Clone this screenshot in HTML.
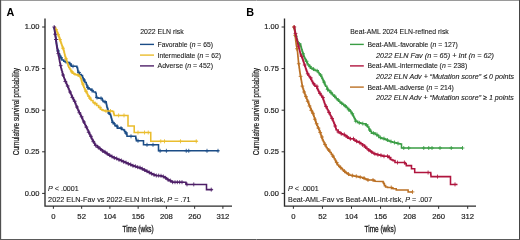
<!DOCTYPE html>
<html><head><meta charset="utf-8"><style>html,body{margin:0;padding:0;background:#fff;width:520px;height:240px;overflow:hidden}svg{display:block;will-change:transform}</style></head>
<body>
<svg width="520" height="240" viewBox="0 0 520 240">
<style>
text{font-family:"Liberation Sans",sans-serif;fill:#1a1a1a}
.tk{font-size:7.5px;stroke:#222;stroke-width:0.18px}
.tx{font-size:7.7px;stroke:#222;stroke-width:0.18px}
.lg{font-size:7.3px;stroke:#1a1a1a;stroke-width:0.1px}
.it{font-size:7.3px;font-style:italic;stroke:#1a1a1a;stroke-width:0.1px}
.an{font-size:7.5px;stroke:#1a1a1a;stroke-width:0.1px}
.pl{font-size:10.8px;font-weight:bold;fill:#000}
</style>
<rect x="0" y="0" width="520" height="240" fill="#fff"/>
<path d="M0 0.5H520" stroke="#9a9a9a" stroke-width="1"/>
<path d="M0.5 0V240" stroke="#505050" stroke-width="1"/>
<path d="M1.5 1V239" stroke="#e4e4e4" stroke-width="1"/>
<path d="M519.5 0V240" stroke="#454545" stroke-width="1"/>
<path d="M0 239.5H520" stroke="#5a5a5a" stroke-width="1"/>
<text x="6.4" y="15.5" class="pl">A</text>
<text x="246.2" y="15.8" class="pl">B</text>
<path d="M45.00 18.5V206.1H232.0" stroke="#2b2b2b" stroke-width="1.35" fill="none"/>
<path d="M42.1 27.0H45.0" stroke="#2b2b2b" stroke-width="1"/>
<text x="39.4" y="29.3" text-anchor="end" class="tk">1.00</text>
<path d="M42.1 68.6H45.0" stroke="#2b2b2b" stroke-width="1"/>
<text x="39.4" y="70.9" text-anchor="end" class="tk">0.75</text>
<path d="M42.1 110.2H45.0" stroke="#2b2b2b" stroke-width="1"/>
<text x="39.4" y="112.5" text-anchor="end" class="tk">0.50</text>
<path d="M42.1 151.8H45.0" stroke="#2b2b2b" stroke-width="1"/>
<text x="39.4" y="154.1" text-anchor="end" class="tk">0.25</text>
<path d="M42.1 193.4H45.0" stroke="#2b2b2b" stroke-width="1"/>
<text x="39.4" y="195.7" text-anchor="end" class="tk">0.00</text>
<path d="M53.40 206.1V208.8" stroke="#2b2b2b" stroke-width="1"/>
<text x="53.40" y="218.9" text-anchor="middle" class="tx">0</text>
<path d="M81.65 206.1V208.8" stroke="#2b2b2b" stroke-width="1"/>
<text x="81.65" y="218.9" text-anchor="middle" class="tx">52</text>
<path d="M109.90 206.1V208.8" stroke="#2b2b2b" stroke-width="1"/>
<text x="109.90" y="218.9" text-anchor="middle" class="tx">104</text>
<path d="M138.15 206.1V208.8" stroke="#2b2b2b" stroke-width="1"/>
<text x="138.15" y="218.9" text-anchor="middle" class="tx">156</text>
<path d="M166.40 206.1V208.8" stroke="#2b2b2b" stroke-width="1"/>
<text x="166.40" y="218.9" text-anchor="middle" class="tx">208</text>
<path d="M194.65 206.1V208.8" stroke="#2b2b2b" stroke-width="1"/>
<text x="194.65" y="218.9" text-anchor="middle" class="tx">260</text>
<path d="M222.90 206.1V208.8" stroke="#2b2b2b" stroke-width="1"/>
<text x="222.90" y="218.9" text-anchor="middle" class="tx">312</text>
<path d="M284.50 18.5V206.1H476.0" stroke="#2b2b2b" stroke-width="1.35" fill="none"/>
<path d="M281.6 27.0H284.5" stroke="#2b2b2b" stroke-width="1"/>
<text x="278.9" y="29.3" text-anchor="end" class="tk">1.00</text>
<path d="M281.6 68.6H284.5" stroke="#2b2b2b" stroke-width="1"/>
<text x="278.9" y="70.9" text-anchor="end" class="tk">0.75</text>
<path d="M281.6 110.2H284.5" stroke="#2b2b2b" stroke-width="1"/>
<text x="278.9" y="112.5" text-anchor="end" class="tk">0.50</text>
<path d="M281.6 151.8H284.5" stroke="#2b2b2b" stroke-width="1"/>
<text x="278.9" y="154.1" text-anchor="end" class="tk">0.25</text>
<path d="M281.6 193.4H284.5" stroke="#2b2b2b" stroke-width="1"/>
<text x="278.9" y="195.7" text-anchor="end" class="tk">0.00</text>
<path d="M293.40 206.1V208.8" stroke="#2b2b2b" stroke-width="1"/>
<text x="293.40" y="218.9" text-anchor="middle" class="tx">0</text>
<path d="M322.45 206.1V208.8" stroke="#2b2b2b" stroke-width="1"/>
<text x="322.45" y="218.9" text-anchor="middle" class="tx">52</text>
<path d="M351.50 206.1V208.8" stroke="#2b2b2b" stroke-width="1"/>
<text x="351.50" y="218.9" text-anchor="middle" class="tx">104</text>
<path d="M380.55 206.1V208.8" stroke="#2b2b2b" stroke-width="1"/>
<text x="380.55" y="218.9" text-anchor="middle" class="tx">156</text>
<path d="M409.60 206.1V208.8" stroke="#2b2b2b" stroke-width="1"/>
<text x="409.60" y="218.9" text-anchor="middle" class="tx">208</text>
<path d="M438.65 206.1V208.8" stroke="#2b2b2b" stroke-width="1"/>
<text x="438.65" y="218.9" text-anchor="middle" class="tx">260</text>
<path d="M467.70 206.1V208.8" stroke="#2b2b2b" stroke-width="1"/>
<text x="467.70" y="218.9" text-anchor="middle" class="tx">312</text>
<text transform="translate(18.8 111.6) rotate(-90)" text-anchor="middle" font-size="8.2" stroke="#1a1a1a" stroke-width="0.2" textLength="87.3" lengthAdjust="spacingAndGlyphs">Cumulative survival probability</text>
<text transform="translate(258.8 111.6) rotate(-90)" text-anchor="middle" font-size="8.2" stroke="#1a1a1a" stroke-width="0.2" textLength="87.3" lengthAdjust="spacingAndGlyphs">Cumulative survival probability</text>
<text x="138.1" y="231.6" text-anchor="middle" font-size="8.6" stroke="#1a1a1a" stroke-width="0.3" textLength="31.3" lengthAdjust="spacingAndGlyphs">Time (wks)</text>
<text x="380.2" y="231.6" text-anchor="middle" font-size="8.6" stroke="#1a1a1a" stroke-width="0.3" textLength="31.3" lengthAdjust="spacingAndGlyphs">Time (wks)</text>
<text x="140.25" y="33.5" class="lg" textLength="43.5" lengthAdjust="spacingAndGlyphs">2022 ELN risk</text>
<path d="M140 44.4H154" stroke="#1b4c86" stroke-width="1.4"/>
<text x="157.5" y="46.9" class="lg" textLength="55.5" lengthAdjust="spacingAndGlyphs">Favorable (<tspan font-style="italic">n</tspan> = 65)</text>
<path d="M140 55.1H154" stroke="#eabd2e" stroke-width="1.4"/>
<text x="157.5" y="57.6" class="lg" textLength="63.5" lengthAdjust="spacingAndGlyphs">Intermediate (<tspan font-style="italic">n</tspan> = 62)</text>
<path d="M140 65.9H154" stroke="#4e2068" stroke-width="1.4"/>
<text x="157.5" y="68.4" class="lg" textLength="55.5" lengthAdjust="spacingAndGlyphs">Adverse (<tspan font-style="italic">n</tspan> = 452)</text>
<text x="350.25" y="33.5" class="lg" textLength="98.5" lengthAdjust="spacingAndGlyphs">Beat-AML 2024 ELN-refined risk</text>
<path d="M350 44.4H363.8" stroke="#3a9d44" stroke-width="1.4"/>
<text x="367.4" y="46.9" class="lg" textLength="90.5" lengthAdjust="spacingAndGlyphs">Beat-AML-favorable (<tspan font-style="italic">n</tspan> = 127)</text>
<text x="376" y="57.5" class="it" textLength="118.0" lengthAdjust="spacingAndGlyphs">2022 ELN Fav (n = 65) + Int (n = 62)</text>
<path d="M350 65.9H363.8" stroke="#b0153e" stroke-width="1.4"/>
<text x="367.4" y="68.4" class="lg" textLength="99.8" lengthAdjust="spacingAndGlyphs">Beat-AML-intermediate (<tspan font-style="italic">n</tspan> = 238)</text>
<text x="376" y="79.0" class="it" textLength="138.0" lengthAdjust="spacingAndGlyphs">2022 ELN Adv + “Mutation score” ≤ 0 points</text>
<path d="M350 87.1H363.8" stroke="#bb7024" stroke-width="1.4"/>
<text x="367.4" y="89.5" class="lg" textLength="86.5" lengthAdjust="spacingAndGlyphs">Beat-AML-adverse (<tspan font-style="italic">n</tspan> = 214)</text>
<text x="376" y="100.2" class="it" textLength="137.8" lengthAdjust="spacingAndGlyphs">2022 ELN Adv + “Mutation score” ≥ 1 points</text>
<text x="48.1" y="190.6" class="an" textLength="30.6" lengthAdjust="spacingAndGlyphs"><tspan font-style="italic">P</tspan> &lt; .0001</text>
<text x="48.1" y="202" class="an" textLength="142.5" lengthAdjust="spacingAndGlyphs">2022 ELN-Fav vs 2022-ELN Int-risk, <tspan font-style="italic">P</tspan> = .71</text>
<text x="288.1" y="190.6" class="an" textLength="30.6" lengthAdjust="spacingAndGlyphs"><tspan font-style="italic">P</tspan> &lt; .0001</text>
<text x="288.1" y="202" class="an" textLength="144.1" lengthAdjust="spacingAndGlyphs">Beat-AML-Fav vs Beat-AML-Int-risk, <tspan font-style="italic">P</tspan> = .007</text>
<path d="M54.00 27.00L54.20 27.00L54.20 28.25L54.40 28.25L54.40 29.50L54.65 29.50L54.65 31.06L54.90 31.06L54.90 32.62L55.15 32.62L55.15 34.19L55.40 34.19L55.40 35.75L55.58 35.75L55.58 37.00L55.75 37.00L55.75 38.25L55.92 38.25L55.92 39.50L56.10 39.50L56.10 40.75L56.27 40.75L56.27 42.00L56.45 42.00L56.45 43.25L56.62 43.25L56.62 44.50L56.80 44.50L56.80 45.75L57.03 45.75L57.03 47.00L57.27 47.00L57.27 48.25L57.50 48.25L57.50 49.50L57.92 49.50L57.92 50.92L58.33 50.92L58.33 52.33L58.75 52.33L58.75 53.75L59.37 53.75L59.37 55.00L59.98 55.00L59.98 56.25L60.60 56.25L60.60 57.50L61.25 57.50L61.25 58.75L61.90 58.75L61.90 60.00L63.75 60.00L63.75 61.25L65.00 61.25L65.00 61.67L66.25 61.67L66.25 62.08L67.50 62.08L67.50 62.50L69.40 62.50L69.40 63.75L70.50 64.00L70.88 64.00L70.88 65.12L71.25 65.12L71.25 66.25L76.25 66.25L76.88 66.25L76.88 67.50L77.50 67.50L77.50 68.75L77.70 68.75L77.70 70.00L77.90 70.00L77.90 71.25L78.10 71.25L78.10 72.50L79.40 72.50L79.40 74.40L81.25 74.40L81.25 75.60L82.50 75.60L82.50 77.50L83.12 77.50L83.12 78.75L83.75 78.75L83.75 80.00L84.38 80.00L84.38 81.25L85.00 81.25L85.00 82.50L86.25 82.50L86.25 84.40L86.88 84.40L86.88 85.95L87.50 85.95L87.50 87.50L88.10 87.50L88.10 88.60L89.30 88.60L89.30 88.92L90.50 88.92L90.50 89.25L91.75 89.25L91.75 90.50L93.00 90.50L93.00 91.75L94.00 92.00L95.50 92.00L95.50 93.00L96.20 93.20L96.20 97.50L97.50 97.50L97.50 98.00L98.83 98.00L98.83 98.17L100.17 98.17L100.17 98.33L101.50 98.33L101.50 98.50L102.30 98.50L102.30 100.30L103.00 100.30L103.00 101.50L104.50 101.50L104.50 101.85L106.00 101.85L106.00 102.20L106.20 102.20L106.20 103.35L106.40 103.35L106.40 104.50L106.70 104.50L106.70 106.00L107.00 106.00L107.00 107.50L107.50 107.50L107.50 109.00L108.00 109.00L108.00 111.00L108.50 111.00L108.50 113.00L109.50 113.00L109.50 114.25L110.50 114.25L110.50 115.50L110.92 115.50L110.92 117.00L111.33 117.00L111.33 118.50L111.75 118.50L111.75 120.00L112.08 120.00L112.08 121.25L112.40 121.25L112.40 122.50L113.60 122.50L113.60 123.75L114.90 123.75L114.90 125.60L116.75 125.60L116.75 126.25L117.40 126.25L117.40 128.10L120.50 128.10L121.75 128.10L121.75 129.40L123.60 129.40L123.60 130.00L124.50 130.00L124.50 131.50L125.50 131.50L125.50 133.00L126.60 133.00L126.60 134.50L127.00 134.50L127.00 136.30L134.50 136.30L135.75 136.30L135.75 138.10L136.07 138.10L136.07 139.43L136.40 139.43L136.40 140.75L143.50 140.75L143.50 144.80L158.50 144.80L158.50 150.80L218.75 150.80" stroke="#1b4c86" stroke-width="1.55" fill="none" stroke-linejoin="miter"/>
<path d="M56.00 37.50V41.50M54.10 39.50H57.90M58.00 48.92V52.92M56.10 50.92H59.90M61.00 55.50V59.50M59.10 57.50H62.90M66.00 59.67V63.67M64.10 61.67H67.90M70.00 61.89V65.89M68.10 63.89H71.90M73.00 64.25V68.25M71.10 66.25H74.90M79.00 70.50V74.50M77.10 72.50H80.90M84.00 78.00V82.00M82.10 80.00H85.90M88.00 85.50V89.50M86.10 87.50H89.90M92.00 88.50V92.50M90.10 90.50H93.90M97.00 95.50V99.50M95.10 97.50H98.90M101.00 96.33V100.33M99.10 98.33H102.90M105.00 99.85V103.85M103.10 101.85H106.90M109.00 111.00V115.00M107.10 113.00H110.90M113.00 120.50V124.50M111.10 122.50H114.90M117.00 124.25V128.25M115.10 126.25H118.90M121.00 126.10V130.10M119.10 128.10H122.90M126.00 131.00V135.00M124.10 133.00H127.90M131.00 134.30V138.30M129.10 136.30H132.90M138.00 138.75V142.75M136.10 140.75H139.90M147.00 142.80V146.80M145.10 144.80H148.90M153.00 142.80V146.80M151.10 144.80H154.90M160.10 148.80V152.80M158.20 150.80H162.00M166.40 148.80V152.80M164.50 150.80H168.30M186.25 148.80V152.80M184.35 150.80H188.15M188.75 148.80V152.80M186.85 150.80H190.65M207.00 148.80V152.80M205.10 150.80H208.90M218.00 148.80V152.80M216.10 150.80H219.90" stroke="#1b4c86" stroke-width="0.85" fill="none"/>
<path d="M54.00 27.00L54.80 27.00L54.80 28.25L55.60 28.25L55.60 29.50L56.23 29.50L56.23 30.75L56.87 30.75L56.87 32.00L57.50 32.00L57.50 33.25L57.98 33.25L57.98 34.50L58.45 34.50L58.45 35.75L58.92 35.75L58.92 37.00L59.40 37.00L59.40 38.25L59.80 38.25L59.80 39.50L60.20 39.50L60.20 40.75L60.60 40.75L60.60 42.00L61.03 42.00L61.03 43.25L61.47 43.25L61.47 44.50L61.90 44.50L61.90 45.75L62.36 45.75L62.36 47.00L62.83 47.00L62.83 48.25L63.29 48.25L63.29 49.50L63.75 49.50L63.75 50.75L64.06 50.75L64.06 52.12L64.38 52.12L64.38 53.50L64.69 53.50L64.69 54.88L65.00 54.88L65.00 56.25L65.42 56.25L65.42 57.50L65.83 57.50L65.83 58.75L66.25 58.75L66.25 60.00L66.67 60.00L66.67 61.25L67.08 61.25L67.08 62.50L67.50 62.50L67.50 63.75L67.92 63.75L67.92 65.00L68.33 65.00L68.33 66.25L68.75 66.25L68.75 67.50L69.67 67.50L69.67 69.05L70.60 69.05L70.60 70.60L71.55 70.60L71.55 71.85L72.50 71.85L72.50 73.10L73.75 73.10L73.75 73.85L75.00 73.85L75.00 74.60L76.25 74.60L76.25 74.80L77.50 74.80L77.50 75.00L78.75 75.00L78.75 75.95L80.00 75.95L80.00 76.90L80.62 76.90L80.62 78.45L81.25 78.45L81.25 80.00L81.58 80.00L81.58 81.25L81.90 81.25L81.90 82.50L82.50 82.50L82.50 84.05L83.10 84.05L83.10 85.60L83.75 85.60L83.75 87.17L84.40 87.17L84.40 88.75L85.00 88.75L85.00 90.00L85.60 90.00L85.60 91.25L86.30 91.25L86.30 92.38L87.00 92.38L87.00 93.50L87.50 93.50L87.50 94.80L88.00 94.80L88.00 96.10L89.25 96.10L89.25 98.00L90.17 98.00L90.17 99.25L91.10 99.25L91.10 100.50L93.00 100.50L93.00 102.40L94.90 102.40L94.90 103.60L96.75 103.60L96.75 105.50L98.60 105.50L98.60 107.40L100.50 107.40L100.50 109.25L101.75 109.25L101.75 109.88L103.00 109.88L103.00 110.50L104.25 110.50L104.25 110.75L105.50 110.75L105.50 111.00L110.50 111.00L112.50 111.00L112.50 111.50L113.60 111.50L113.60 113.30L113.92 113.30L113.92 114.35L114.25 114.35L114.25 115.40L128.00 115.40L128.00 125.90L134.20 125.90L134.20 132.50L150.75 132.50L150.75 141.30L197.50 141.30" stroke="#eabd2e" stroke-width="1.55" fill="none" stroke-linejoin="miter"/>
<path d="M56.00 27.50V31.50M54.10 29.50H57.90M58.00 32.50V36.50M56.10 34.50H59.90M60.00 37.50V41.50M58.10 39.50H61.90M63.00 46.25V50.25M61.10 48.25H64.90M66.00 56.75V60.75M64.10 58.75H67.90M72.00 69.85V73.85M70.10 71.85H73.90M78.00 73.00V77.00M76.10 75.00H79.90M83.00 82.05V86.05M81.10 84.05H84.90M86.00 89.25V93.25M84.10 91.25H87.90M90.00 96.00V100.00M88.10 98.00H91.90M95.00 101.60V105.60M93.10 103.60H96.90M100.00 105.40V109.40M98.10 107.40H101.90M106.00 109.00V113.00M104.10 111.00H107.90M110.50 109.00V113.00M108.60 111.00H112.40M118.60 113.40V117.40M116.70 115.40H120.50M124.00 113.40V117.40M122.10 115.40H125.90M138.00 130.50V134.50M136.10 132.50H139.90M144.50 130.50V134.50M142.60 132.50H146.40M148.25 130.50V134.50M146.35 132.50H150.15M160.75 139.30V143.30M158.85 141.30H162.65M164.50 139.30V143.30M162.60 141.30H166.40M180.50 139.30V143.30M178.60 141.30H182.40M196.25 139.30V143.30M194.35 141.30H198.15" stroke="#eabd2e" stroke-width="0.85" fill="none"/>
<path d="M54.00 27.00L54.20 27.00L54.20 28.25L54.40 28.25L54.40 29.50L54.62 29.50L54.62 31.06L54.85 31.06L54.85 32.62L55.07 32.62L55.07 34.19L55.30 34.19L55.30 35.75L55.47 35.75L55.47 37.00L55.65 37.00L55.65 38.25L55.83 38.25L55.83 39.50L56.00 39.50L56.00 40.75L56.15 40.75L56.15 42.00L56.30 42.00L56.30 43.25L56.45 43.25L56.45 44.50L56.60 44.50L56.60 45.75L56.83 45.75L56.83 47.00L57.07 47.00L57.07 48.25L57.30 48.25L57.30 49.50L57.56 49.50L57.56 50.85L57.82 50.85L57.82 52.20L58.08 52.20L58.08 53.55L58.34 53.55L58.34 54.90L58.60 54.90L58.60 56.25L58.90 56.25L58.90 57.81L59.20 57.81L59.20 59.38L59.50 59.38L59.50 60.94L59.80 60.94L59.80 62.50L60.12 62.50L60.12 64.06L60.45 64.06L60.45 65.62L60.77 65.62L60.77 67.19L61.10 67.19L61.10 68.75L61.55 68.75L61.55 70.31L62.00 70.31L62.00 71.88L62.45 71.88L62.45 73.44L62.90 73.44L62.90 75.00L63.35 75.00L63.35 76.25L63.80 76.25L63.80 77.50L64.25 77.50L64.25 78.75L64.70 78.75L64.70 80.00L65.33 80.00L65.33 81.50L65.95 81.50L65.95 83.00L66.58 83.00L66.58 84.50L67.20 84.50L67.20 86.00L67.85 86.00L67.85 87.50L68.50 87.50L68.50 89.00L69.15 89.00L69.15 90.50L69.80 90.50L69.80 92.00L70.42 92.00L70.42 93.38L71.05 93.38L71.05 94.75L71.67 94.75L71.67 96.12L72.30 96.12L72.30 97.50L72.92 97.50L72.92 98.75L73.55 98.75L73.55 100.00L74.17 100.00L74.17 101.25L74.80 101.25L74.80 102.50L75.40 102.50L75.40 104.00L76.00 104.00L76.00 105.50L76.60 105.50L76.60 107.00L77.20 107.00L77.20 108.50L77.88 108.50L77.88 109.90L78.56 109.90L78.56 111.30L79.24 111.30L79.24 112.70L79.92 112.70L79.92 114.10L80.60 114.10L80.60 115.50L81.20 115.50L81.20 116.79L81.80 116.79L81.80 118.08L82.40 118.08L82.40 119.38L83.00 119.38L83.00 120.67L83.60 120.67L83.60 121.96L84.20 121.96L84.20 123.25L84.83 123.25L84.83 124.54L85.47 124.54L85.47 125.83L86.10 125.83L86.10 127.12L86.73 127.12L86.73 128.42L87.37 128.42L87.37 129.71L88.00 129.71L88.00 131.00L88.62 131.00L88.62 132.33L89.23 132.33L89.23 133.67L89.85 133.67L89.85 135.00L90.47 135.00L90.47 136.33L91.08 136.33L91.08 137.67L91.70 137.67L91.70 139.00L92.46 139.00L92.46 140.30L93.22 140.30L93.22 141.60L93.98 141.60L93.98 142.90L94.74 142.90L94.74 144.20L95.50 144.20L95.50 145.50L97.25 145.50L97.25 147.12L99.00 147.12L99.00 148.75L100.75 148.75L100.75 149.88L102.50 149.88L102.50 151.00L103.75 151.00L103.75 151.88L105.00 151.88L105.00 152.75L106.25 152.75L106.25 153.62L107.50 153.62L107.50 154.50L108.75 154.50L108.75 155.18L110.00 155.18L110.00 155.85L111.25 155.85L111.25 156.52L112.50 156.52L112.50 157.20L114.06 157.20L114.06 157.85L115.62 157.85L115.62 158.50L117.19 158.50L117.19 159.15L118.75 159.15L118.75 159.80L120.31 159.80L120.31 160.48L121.88 160.48L121.88 161.15L123.44 161.15L123.44 161.82L125.00 161.82L125.00 162.50L126.50 162.50L126.50 163.16L128.00 163.16L128.00 163.82L129.50 163.82L129.50 164.48L131.00 164.48L131.00 165.14L132.50 165.14L132.50 165.80L134.00 165.80L134.00 166.26L135.50 166.26L135.50 166.72L137.00 166.72L137.00 167.18L138.50 167.18L138.50 167.64L140.00 167.64L140.00 168.10L141.25 168.10L141.25 168.72L142.50 168.72L142.50 169.35L143.75 169.35L143.75 169.97L145.00 169.97L145.00 170.60L146.25 170.60L146.25 171.22L147.50 171.22L147.50 171.85L148.75 171.85L148.75 172.47L150.00 172.47L150.00 173.10L151.25 173.10L151.25 173.68L152.50 173.68L152.50 174.25L153.75 174.25L153.75 174.82L155.00 174.82L155.00 175.40L156.25 175.40L156.25 175.50L157.50 175.50L157.50 175.60L158.75 175.60L158.75 175.70L160.00 175.70L160.00 175.80L161.25 175.80L161.25 176.17L162.50 176.17L162.50 176.53L163.75 176.53L163.75 176.90L165.00 176.90L165.00 177.82L166.25 177.82L166.25 178.75L167.62 178.75L167.62 179.68L169.00 179.68L169.00 180.60L170.75 180.60L170.75 181.40L172.50 181.40L172.50 182.20L185.50 182.20L185.88 182.20L185.88 183.30L186.25 183.30L186.25 184.40L206.50 184.40L206.50 189.60L212.50 189.60" stroke="#4e2068" stroke-width="1.55" fill="none" stroke-linejoin="miter"/>
<path d="M54.20 25.00V29.00M52.30 27.00H56.10M55.10 32.19V36.19M53.20 34.19H57.00M56.00 37.50V41.50M54.10 39.50H57.90M58.33 51.55V55.55M56.43 53.55H60.23M60.67 63.62V67.62M58.77 65.62H62.57M63.00 73.00V77.00M61.10 75.00H64.90M65.33 79.50V83.50M63.43 81.50H67.23M67.67 84.00V88.00M65.77 86.00H69.57M70.00 90.00V94.00M68.10 92.00H71.90M72.33 95.50V99.50M70.43 97.50H74.23M74.67 99.25V103.25M72.77 101.25H76.57M77.00 105.00V109.00M75.10 107.00H78.90M79.33 110.70V114.70M77.43 112.70H81.23M81.67 114.79V118.79M79.77 116.79H83.57M84.00 119.96V123.96M82.10 121.96H85.90M86.33 125.12V129.12M84.43 127.12H88.23M88.67 130.33V134.33M86.77 132.33H90.57M91.00 134.33V138.33M89.10 136.33H92.90M93.33 139.60V143.60M91.43 141.60H95.23M95.67 143.50V147.50M93.77 145.50H97.57M98.00 145.12V149.12M96.10 147.12H99.90M100.33 146.75V150.75M98.43 148.75H102.23M102.67 149.00V153.00M100.77 151.00H104.57M105.00 149.88V153.88M103.10 151.88H106.90M107.33 151.62V155.62M105.43 153.62H109.23M109.67 153.18V157.18M107.77 155.18H111.57M112.00 154.52V158.52M110.10 156.52H113.90M114.33 155.85V159.85M112.43 157.85H116.23M116.67 156.50V160.50M114.77 158.50H118.57M119.00 157.80V161.80M117.10 159.80H120.90M121.33 158.48V162.48M119.43 160.48H123.23M123.67 159.82V163.82M121.77 161.82H125.57M126.00 160.50V164.50M124.10 162.50H127.90M128.33 161.82V165.82M126.43 163.82H130.23M130.67 162.48V166.48M128.77 164.48H132.57M133.00 163.80V167.80M131.10 165.80H134.90M135.33 164.26V168.26M133.43 166.26H137.23M137.67 165.18V169.18M135.77 167.18H139.57M140.00 165.64V169.64M138.10 167.64H141.90M142.33 166.72V170.72M140.43 168.72H144.23M144.67 167.97V171.97M142.77 169.97H146.57M147.00 169.22V173.22M145.10 171.22H148.90M149.33 170.47V174.47M147.43 172.47H151.23M151.67 171.68V175.68M149.77 173.68H153.57M154.00 172.82V176.82M152.10 174.82H155.90M156.33 173.50V177.50M154.43 175.50H158.23M158.67 173.60V177.60M156.77 175.60H160.57M161.00 173.80V177.80M159.10 175.80H162.90M163.33 174.53V178.53M161.43 176.53H165.23M165.67 175.82V179.82M163.77 177.82H167.57M168.00 177.68V181.68M166.10 179.68H169.90M170.33 178.60V182.60M168.43 180.60H172.23M172.67 180.20V184.20M170.77 182.20H174.57M175.00 180.20V184.20M173.10 182.20H176.90M177.33 180.20V184.20M175.43 182.20H179.23M179.67 180.20V184.20M177.77 182.20H181.57M182.00 180.20V184.20M180.10 182.20H183.90M187.00 182.40V186.40M185.10 184.40H188.90M193.75 182.40V186.40M191.85 184.40H195.65M211.25 187.60V191.60M209.35 189.60H213.15" stroke="#4e2068" stroke-width="0.85" fill="none"/>
<path d="M293.60 27.00L294.05 27.00L294.05 28.25L294.50 28.25L294.50 29.50L294.77 29.50L294.77 30.88L295.05 30.88L295.05 32.25L295.33 32.25L295.33 33.62L295.60 33.62L295.60 35.00L295.93 35.00L295.93 36.25L296.25 36.25L296.25 37.50L296.57 37.50L296.57 38.75L296.90 38.75L296.90 40.00L297.50 40.00L297.50 41.75L298.10 41.75L298.10 43.50L299.40 43.50L299.40 44.00L300.50 44.00L300.50 45.50L300.90 45.50L300.90 47.00L301.30 47.00L301.30 48.50L301.70 48.50L301.70 49.83L302.10 49.83L302.10 51.17L302.50 51.17L302.50 52.50L302.94 52.50L302.94 53.75L303.38 53.75L303.38 55.00L303.81 55.00L303.81 56.25L304.25 56.25L304.25 57.50L304.87 57.50L304.87 58.75L305.48 58.75L305.48 60.00L306.10 60.00L306.10 61.25L306.73 61.25L306.73 62.50L307.37 62.50L307.37 63.75L308.00 63.75L308.00 65.00L309.25 65.00L309.25 66.55L310.50 66.55L310.50 68.10L312.05 68.10L312.05 69.05L313.60 69.05L313.60 70.00L315.25 70.00L315.25 70.40L316.90 70.40L316.90 70.80L318.10 70.80L318.10 72.50L319.05 72.50L319.05 73.75L320.00 73.75L320.00 75.00L320.95 75.00L320.95 76.55L321.90 76.55L321.90 78.10L322.50 78.10L322.50 79.35L323.10 79.35L323.10 80.60L323.75 80.60L323.75 82.17L324.40 82.17L324.40 83.75L325.00 83.75L325.00 85.00L325.60 85.00L325.60 86.25L326.90 86.25L326.90 88.10L327.50 88.10L327.50 89.35L328.10 89.35L328.10 90.60L330.00 90.60L330.00 92.40L331.25 92.40L331.25 93.65L332.50 93.65L332.50 94.90L333.75 94.90L333.75 96.15L335.00 96.15L335.00 97.40L336.25 97.40L336.25 98.65L337.50 98.65L337.50 99.90L338.75 99.90L338.75 101.15L340.00 101.15L340.00 102.40L341.25 102.40L341.25 103.33L342.50 103.33L342.50 104.25L343.75 104.25L343.75 105.17L345.00 105.17L345.00 106.10L346.25 106.10L346.25 107.35L347.50 107.35L347.50 108.60L348.75 108.60L348.75 109.85L350.00 109.85L350.00 111.10L351.00 111.10L351.00 112.42L352.00 112.42L352.00 113.75L352.62 113.75L352.62 115.00L353.25 115.00L353.25 116.25L353.88 116.25L353.88 117.50L354.50 117.50L354.50 118.75L355.12 118.75L355.12 120.00L355.75 120.00L355.75 121.25L357.60 121.25L357.60 122.50L359.07 122.50L359.07 122.83L360.53 122.83L360.53 123.17L362.00 123.17L362.00 123.50L363.90 123.75L365.75 123.75L365.75 125.00L367.60 125.00L367.60 126.90L368.90 126.90L368.90 128.75L369.50 128.75L369.50 130.00L370.10 130.00L370.10 131.25L371.40 131.25L371.40 133.10L373.25 133.10L375.10 133.10L375.10 134.40L377.00 134.40L377.00 135.60L378.90 135.60L378.90 137.50L380.75 137.50L380.75 138.10L381.88 138.10L381.88 138.35L383.00 138.35L383.00 138.60L384.62 138.60L384.62 139.30L386.25 139.30L386.25 140.00L387.50 140.00L387.50 140.50L388.75 140.50L388.75 141.00L390.00 141.00L390.00 141.50L391.25 141.50L391.25 141.83L392.50 141.83L392.50 142.17L393.75 142.17L393.75 142.50L395.00 142.50L395.00 142.81L396.25 142.81L396.25 143.12L397.50 143.12L397.50 143.44L398.75 143.44L398.75 143.75L400.12 143.75L400.12 144.03L401.50 144.03L401.50 144.30L401.50 148.00L463.00 148.00" stroke="#3a9d44" stroke-width="1.55" fill="none" stroke-linejoin="miter"/>
<path d="M296.00 34.25V38.25M294.10 36.25H297.90M299.52 42.00V46.00M297.62 44.00H301.42M303.03 51.75V55.75M301.13 53.75H304.93M306.55 59.25V63.25M304.65 61.25H308.45M310.07 64.55V68.55M308.17 66.55H311.97M313.59 67.05V71.05M311.69 69.05H315.49M317.10 68.80V72.80M315.20 70.80H319.00M320.62 73.00V77.00M318.72 75.00H322.52M324.14 80.17V84.17M322.24 82.17H326.04M327.66 87.35V91.35M325.76 89.35H329.56M331.17 90.40V94.40M329.27 92.40H333.07M334.69 94.15V98.15M332.79 96.15H336.59M338.21 97.90V101.90M336.31 99.90H340.11M341.72 101.33V105.33M339.82 103.33H343.62M345.24 104.10V108.10M343.34 106.10H347.14M348.76 107.85V111.85M346.86 109.85H350.66M352.28 111.75V115.75M350.38 113.75H354.18M355.79 119.25V123.25M353.89 121.25H357.69M359.31 120.83V124.83M357.41 122.83H361.21M362.83 121.61V125.61M360.93 123.61H364.73M366.34 123.00V127.00M364.44 125.00H368.24M369.86 128.00V132.00M367.96 130.00H371.76M373.38 131.10V135.10M371.48 133.10H375.28M376.90 132.40V136.40M375.00 134.40H378.80M380.41 135.50V139.50M378.51 137.50H382.31M383.93 136.60V140.60M382.03 138.60H385.83M387.45 138.00V142.00M385.55 140.00H389.35M390.97 139.50V143.50M389.07 141.50H392.87M394.48 140.50V144.50M392.58 142.50H396.38M398.00 141.44V145.44M396.10 143.44H399.90M403.75 146.00V150.00M401.85 148.00H405.65M408.75 146.00V150.00M406.85 148.00H410.65M423.75 146.00V150.00M421.85 148.00H425.65M428.75 146.00V150.00M426.85 148.00H430.65M432.00 146.00V150.00M430.10 148.00H433.90M440.00 146.00V150.00M438.10 148.00H441.90M451.25 146.00V150.00M449.35 148.00H453.15M462.50 146.00V150.00M460.60 148.00H464.40" stroke="#3a9d44" stroke-width="0.85" fill="none"/>
<path d="M293.60 27.00L294.40 27.00L294.40 28.75L294.55 28.75L294.55 30.00L294.70 30.00L294.70 31.25L294.85 31.25L294.85 32.50L295.00 32.50L295.00 33.75L295.15 33.75L295.15 35.31L295.30 35.31L295.30 36.88L295.45 36.88L295.45 38.44L295.60 38.44L295.60 40.00L295.76 40.00L295.76 41.25L295.93 41.25L295.93 42.50L296.09 42.50L296.09 43.75L296.25 43.75L296.25 45.00L296.50 45.00L296.50 46.25L296.75 46.25L296.75 47.50L296.97 47.50L296.97 48.75L297.18 48.75L297.18 50.00L297.40 50.00L297.40 51.25L297.55 51.25L297.55 52.81L297.70 52.81L297.70 54.38L297.85 54.38L297.85 55.94L298.00 55.94L298.00 57.50L298.15 57.50L298.15 59.06L298.30 59.06L298.30 60.62L298.45 60.62L298.45 62.19L298.60 62.19L298.60 63.75L298.83 63.75L298.83 65.31L299.05 65.31L299.05 66.88L299.27 66.88L299.27 68.44L299.50 68.44L299.50 70.00L299.69 70.00L299.69 71.25L299.88 71.25L299.88 72.50L300.06 72.50L300.06 73.75L300.25 73.75L300.25 75.00L300.50 75.00L300.50 76.39L300.75 76.39L300.75 77.78L301.00 77.78L301.00 79.17L301.25 79.17L301.25 80.56L301.50 80.56L301.50 81.94L301.75 81.94L301.75 83.33L302.00 83.33L302.00 84.72L302.25 84.72L302.25 86.11L302.50 86.11L302.50 87.50L303.00 87.50L303.00 89.00L303.50 89.00L303.50 90.50L304.00 90.50L304.00 92.00L304.50 92.00L304.50 93.50L305.00 93.50L305.00 95.00L305.62 95.00L305.62 96.56L306.25 96.56L306.25 98.12L306.88 98.12L306.88 99.69L307.50 99.69L307.50 101.25L308.12 101.25L308.12 102.81L308.75 102.81L308.75 104.38L309.38 104.38L309.38 105.94L310.00 105.94L310.00 107.50L310.62 107.50L310.62 108.96L311.25 108.96L311.25 110.42L311.88 110.42L311.88 111.88L312.50 111.88L312.50 113.33L313.12 113.33L313.12 114.79L313.75 114.79L313.75 116.25L314.25 116.25L314.25 117.75L314.75 117.75L314.75 119.25L315.25 119.25L315.25 120.75L315.75 120.75L315.75 122.25L316.25 122.25L316.25 123.75L316.88 123.75L316.88 125.21L317.50 125.21L317.50 126.67L318.12 126.67L318.12 128.12L318.75 128.12L318.75 129.58L319.38 129.58L319.38 131.04L320.00 131.04L320.00 132.50L320.50 132.50L320.50 134.00L321.00 134.00L321.00 135.50L321.50 135.50L321.50 137.00L322.00 137.00L322.00 138.50L322.50 138.50L322.50 140.00L323.25 140.00L323.25 141.50L324.00 141.50L324.00 143.00L324.75 143.00L324.75 144.50L325.50 144.50L325.50 146.00L326.25 146.00L326.25 147.50L327.19 147.50L327.19 148.75L328.12 148.75L328.12 150.00L329.06 150.00L329.06 151.25L330.00 151.25L330.00 152.50L331.25 152.50L331.25 154.25L332.50 154.25L332.50 156.00L333.33 156.00L333.33 157.33L334.17 157.33L334.17 158.67L335.00 158.67L335.00 160.00L335.62 160.00L335.62 161.25L336.25 161.25L336.25 162.50L336.88 162.50L336.88 163.75L337.50 163.75L337.50 165.00L338.75 165.00L338.75 166.25L340.00 166.25L340.00 167.50L341.25 167.50L341.25 168.75L342.50 168.75L342.50 170.00L343.75 170.00L343.75 171.25L345.00 171.25L345.00 172.19L346.25 172.19L346.25 173.12L347.50 173.12L347.50 174.06L348.75 174.06L348.75 175.00L350.31 175.00L350.31 175.31L351.88 175.31L351.88 175.62L353.44 175.62L353.44 175.94L355.00 175.94L355.00 176.25L356.56 176.25L356.56 176.56L358.12 176.56L358.12 176.88L359.69 176.88L359.69 177.19L361.25 177.19L361.25 177.50L362.81 177.50L362.81 178.12L364.38 178.12L364.38 178.75L365.94 178.75L365.94 179.38L367.50 179.38L367.50 180.00L372.50 180.00L373.75 180.00L373.75 180.62L375.00 180.62L375.00 181.25L382.50 181.50L383.12 181.50L383.12 182.62L383.75 182.62L383.75 183.75L384.40 183.75L384.40 185.60L385.60 185.60L385.60 186.90L387.50 186.90L387.50 187.50L390.60 187.50L391.85 187.50L391.85 188.12L393.10 188.12L393.10 188.75L395.00 188.75L396.25 188.75L396.25 190.00L407.50 190.00L408.10 190.00L408.10 191.90L412.50 191.90" stroke="#bb7024" stroke-width="1.55" fill="none" stroke-linejoin="miter"/>
<path d="M293.90 25.00V29.00M292.00 27.00H295.80M295.20 33.31V37.31M293.30 35.31H297.10M296.99 46.75V50.75M295.09 48.75H298.89M298.77 61.75V65.75M296.87 63.75H300.67M300.56 74.39V78.39M298.66 76.39H302.46M302.35 84.11V88.11M300.45 86.11H304.25M304.13 90.00V94.00M302.23 92.00H306.03M305.92 94.56V98.56M304.02 96.56H307.82M307.71 99.25V103.25M305.81 101.25H309.61M309.49 103.94V107.94M307.59 105.94H311.39M311.28 108.42V112.42M309.38 110.42H313.18M313.07 111.33V115.33M311.17 113.33H314.97M314.85 117.25V121.25M312.95 119.25H316.75M316.64 121.75V125.75M314.74 123.75H318.54M318.43 126.12V130.12M316.53 128.12H320.33M320.21 130.50V134.50M318.31 132.50H322.11M322.00 135.00V139.00M320.10 137.00H323.90M325.00 142.50V146.50M323.10 144.50H326.90M328.91 148.00V152.00M327.01 150.00H330.81M332.82 154.00V158.00M330.92 156.00H334.72M336.73 160.50V164.50M334.83 162.50H338.63M340.64 165.50V169.50M338.74 167.50H342.54M344.55 169.25V173.25M342.65 171.25H346.45M348.45 172.06V176.06M346.55 174.06H350.35M352.36 173.62V177.62M350.46 175.62H354.26M356.27 174.25V178.25M354.37 176.25H358.17M360.18 175.19V179.19M358.28 177.19H362.08M364.09 176.12V180.12M362.19 178.12H365.99M368.00 178.00V182.00M366.10 180.00H369.90M373.00 178.00V182.00M371.10 180.00H374.90M391.25 185.50V189.50M389.35 187.50H393.15M412.50 189.90V193.90M410.60 191.90H414.40" stroke="#bb7024" stroke-width="0.85" fill="none"/>
<path d="M293.60 27.00L294.40 27.00L294.40 28.75L294.70 28.75L294.70 30.31L295.00 30.31L295.00 31.88L295.30 31.88L295.30 33.44L295.60 33.44L295.60 35.00L295.93 35.00L295.93 36.25L296.25 36.25L296.25 37.50L296.57 37.50L296.57 38.75L296.90 38.75L296.90 40.00L297.20 40.00L297.20 41.25L297.50 41.25L297.50 42.50L297.80 42.50L297.80 43.75L298.10 43.75L298.10 45.00L298.43 45.00L298.43 46.25L298.75 46.25L298.75 47.50L299.07 47.50L299.07 48.75L299.40 48.75L299.40 50.00L299.70 50.00L299.70 51.25L300.00 51.25L300.00 52.50L300.30 52.50L300.30 53.75L300.60 53.75L300.60 55.00L301.20 55.00L301.20 56.25L301.80 56.25L301.80 57.50L302.40 57.50L302.40 58.75L302.80 58.75L302.80 60.00L303.20 60.00L303.20 61.25L303.60 61.25L303.60 62.50L304.03 62.50L304.03 63.75L304.47 63.75L304.47 65.00L304.90 65.00L304.90 66.25L305.30 66.25L305.30 67.50L305.70 67.50L305.70 68.75L306.10 68.75L306.10 70.00L306.58 70.00L306.58 71.25L307.05 71.25L307.05 72.50L307.52 72.50L307.52 73.75L308.00 73.75L308.00 75.00L309.00 75.00L309.00 76.40L310.00 76.40L310.00 77.80L310.83 77.80L310.83 79.37L311.67 79.37L311.67 80.93L312.50 80.93L312.50 82.50L313.33 82.50L313.33 83.75L314.17 83.75L314.17 85.00L315.00 85.00L315.00 86.25L316.90 86.25L316.90 88.10L317.52 88.10L317.52 89.37L318.13 89.37L318.13 90.63L318.75 90.63L318.75 91.90L319.68 91.90L319.68 93.45L320.60 93.45L320.60 95.00L321.55 95.00L321.55 96.25L322.50 96.25L322.50 97.50L323.00 97.50L323.00 99.00L323.50 99.00L323.50 100.50L324.00 100.50L324.00 102.00L324.50 102.00L324.50 103.50L325.00 103.50L325.00 105.00L325.75 105.00L325.75 106.50L326.50 106.50L326.50 108.00L327.25 108.00L327.25 109.50L328.00 109.50L328.00 111.00L328.75 111.00L328.75 112.50L329.50 112.50L329.50 114.00L330.25 114.00L330.25 115.50L331.00 115.50L331.00 117.00L331.75 117.00L331.75 118.50L332.50 118.50L332.50 120.00L333.12 120.00L333.12 121.50L333.75 121.50L333.75 123.00L334.38 123.00L334.38 124.50L335.00 124.50L335.00 126.00L335.42 126.00L335.42 127.33L335.83 127.33L335.83 128.67L336.25 128.67L336.25 130.00L338.10 130.00L338.10 131.90L340.00 131.90L340.00 133.10L341.25 133.10L341.25 133.75L342.50 133.75L342.50 134.40L344.40 134.40L344.40 135.60L346.25 135.60L346.25 136.90L348.10 136.90L348.10 138.10L350.00 138.10L350.00 138.75L351.90 138.75L353.75 138.75L353.75 140.00L355.00 140.00L355.00 140.62L356.25 140.62L356.25 141.25L357.50 141.25L357.50 141.88L358.75 141.88L358.75 142.50L360.60 142.50L360.60 143.75L362.50 143.75L362.50 145.00L364.40 145.00L364.40 146.90L365.70 146.90L365.70 147.95L367.00 147.95L367.00 149.00L368.50 149.00L368.50 150.12L370.00 150.12L370.00 151.25L371.25 151.25L371.25 152.08L372.50 152.08L372.50 152.92L373.75 152.92L373.75 153.75L375.00 153.75L375.00 154.06L376.25 154.06L376.25 154.38L377.50 154.38L377.50 154.69L378.75 154.69L378.75 155.00L380.00 155.00L380.00 155.31L381.25 155.31L381.25 155.62L382.50 155.62L382.50 155.94L383.75 155.94L383.75 156.25L385.00 156.25L387.50 156.25L388.75 156.25L388.75 157.50L390.60 157.50L390.60 159.40L391.85 159.40L391.85 160.00L393.10 160.00L393.10 160.60L395.00 160.60L395.00 162.50L403.75 162.50L405.00 162.50L405.00 163.75L406.25 163.75L406.25 165.60L411.50 165.60L411.50 168.75L414.70 168.75L414.70 172.50L430.60 172.50L430.73 172.50L430.73 173.87L430.87 173.87L430.87 175.23L431.00 175.23L431.00 176.60L450.50 176.60L450.50 184.40L457.50 184.40" stroke="#b0153e" stroke-width="1.55" fill="none" stroke-linejoin="miter"/>
<path d="M294.30 25.00V29.00M292.40 27.00H296.20M295.50 31.44V35.44M293.60 33.44H297.40M298.55 44.25V48.25M296.65 46.25H300.45M301.60 54.25V58.25M299.70 56.25H303.50M304.66 63.00V67.00M302.76 65.00H306.56M307.71 71.75V75.75M305.81 73.75H309.61M310.76 75.80V79.80M308.86 77.80H312.66M313.81 81.75V85.75M311.91 83.75H315.71M316.86 84.25V88.25M314.96 86.25H318.76M319.91 91.45V95.45M318.01 93.45H321.81M322.97 95.50V99.50M321.07 97.50H324.87M326.02 104.50V108.50M324.12 106.50H327.92M329.07 110.50V114.50M327.17 112.50H330.97M332.12 116.50V120.50M330.22 118.50H334.02M335.17 124.00V128.00M333.27 126.00H337.07M338.22 129.90V133.90M336.32 131.90H340.12M341.28 131.75V135.75M339.38 133.75H343.18M344.33 132.40V136.40M342.43 134.40H346.23M347.38 134.90V138.90M345.48 136.90H349.28M350.43 136.75V140.75M348.53 138.75H352.33M353.48 136.75V140.75M351.58 138.75H355.38M356.53 139.25V143.25M354.63 141.25H358.43M359.59 140.50V144.50M357.69 142.50H361.49M362.64 143.00V147.00M360.74 145.00H364.54M365.69 144.90V148.90M363.79 146.90H367.59M368.74 148.12V152.12M366.84 150.12H370.64M371.79 150.08V154.08M369.89 152.08H373.69M374.84 151.75V155.75M372.94 153.75H376.74M377.90 152.69V156.69M376.00 154.69H379.80M380.95 153.31V157.31M379.05 155.31H382.85M384.00 154.25V158.25M382.10 156.25H385.90M387.50 154.25V158.25M385.60 156.25H389.40M389.40 155.50V159.50M387.50 157.50H391.30M397.50 160.50V164.50M395.60 162.50H399.40M404.40 160.50V164.50M402.50 162.50H406.30M428.10 170.50V174.50M426.20 172.50H430.00M437.50 174.60V178.60M435.60 176.60H439.40M455.00 182.40V186.40M453.10 184.40H456.90" stroke="#b0153e" stroke-width="0.85" fill="none"/>
</svg>
</body></html>
